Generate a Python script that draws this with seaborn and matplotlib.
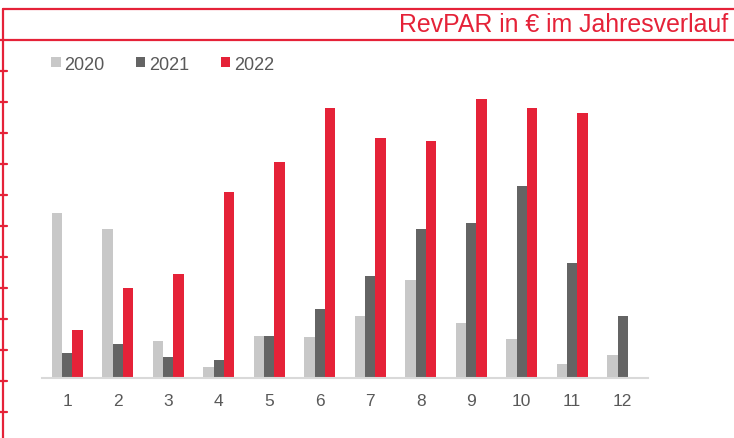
import numpy as np
import pandas as pd
import matplotlib
matplotlib.use("Agg")
import matplotlib.pyplot as plt
import seaborn as sns
from matplotlib.lines import Line2D
from matplotlib.patches import Patch

months = [str(m) for m in range(1, 13)]
years = ["2020", "2021", "2022"]
rev_2020 = [58.8, 52.9, 13.2, 3.6, 15.0, 14.5, 21.8, 34.8, 19.3, 13.7, 4.8, 7.9]
rev_2021 = [8.9, 11.8, 7.4, 6.4, 14.8, 24.5, 36.1, 53.2, 55.1, 68.5, 41.0, 21.8]
rev_2022 = [16.8, 32.0, 36.8, 66.3, 77.0, 96.3, 85.4, 84.6, 99.5, 96.1, 94.3, np.nan]
title = "RevPAR in € im Jahresverlauf"

colors = {"2020": "#C8C8C8", "2021": "#646464", "2022": "#E52238"}
red = "#E52238"
text_grey = "#595959"

df = pd.DataFrame({
    "Monat": months * 3,
    "Jahr": ["2020"] * 12 + ["2021"] * 12 + ["2022"] * 12,
    "RevPAR": rev_2020 + rev_2021 + rev_2022,
})

sns.set_theme(style="white")
plt.rcParams["font.family"] = ["Liberation Sans", "DejaVu Sans"]

W, H = 734, 439
fig = plt.figure(figsize=(W / 100, H / 100), dpi=100)
ax = fig.add_axes([42 / W, 60.5 / H, 606 / W, 294 / H])

sns.barplot(data=df, x="Monat", y="RevPAR", hue="Jahr", order=months,
            hue_order=years, palette=colors, width=0.62, gap=0,
            ax=ax, saturation=1, linewidth=0, legend=False, errorbar=None)

ax.set_xlim(-0.5, 11.5)
ax.set_ylim(0, 105)
ax.set_xlabel("")
ax.set_ylabel("")
ax.set_yticks([])
for s in ["top", "right", "left"]:
    ax.spines[s].set_visible(False)
ax.spines["bottom"].set_color("#D9D9D9")
ax.spines["bottom"].set_linewidth(1.5)
ax.tick_params(axis="x", length=0, pad=11.5, labelsize=12.5, labelcolor=text_grey)

handles = [Patch(facecolor=colors[y], edgecolor="none") for y in years]
ax.legend(handles, years, ncol=3, frameon=False, loc="center left",
          bbox_to_anchor=(51 / W, 1 - 65 / H), bbox_transform=fig.transFigure,
          handlelength=0.53, handleheight=0.53, handletextpad=0.22,
          columnspacing=1.72, borderpad=0, borderaxespad=0,
          fontsize=13, labelcolor=text_grey)

# decorative frame
def fx(x):
    return x / W

def fy(y):
    return 1 - y / H

fig.add_artist(Line2D([fx(3), 1], [fy(10), fy(10)], color=red, lw=1.6, transform=fig.transFigure))
fig.add_artist(Line2D([fx(0), 1], [fy(41), fy(41)], color=red, lw=1.6, transform=fig.transFigure))
fig.add_artist(Line2D([fx(3), fx(3)], [fy(10), 0], color=red, lw=1.6, transform=fig.transFigure))
for ty in range(72, 439, 31):
    fig.add_artist(Line2D([fx(0), fx(7)], [fy(ty), fy(ty)], color=red, lw=1.6, transform=fig.transFigure))

fig.text(fx(728), fy(25), title, color=red, fontsize=17.9, ha="right", va="center")

fig.savefig("out.png", dpi=100)
